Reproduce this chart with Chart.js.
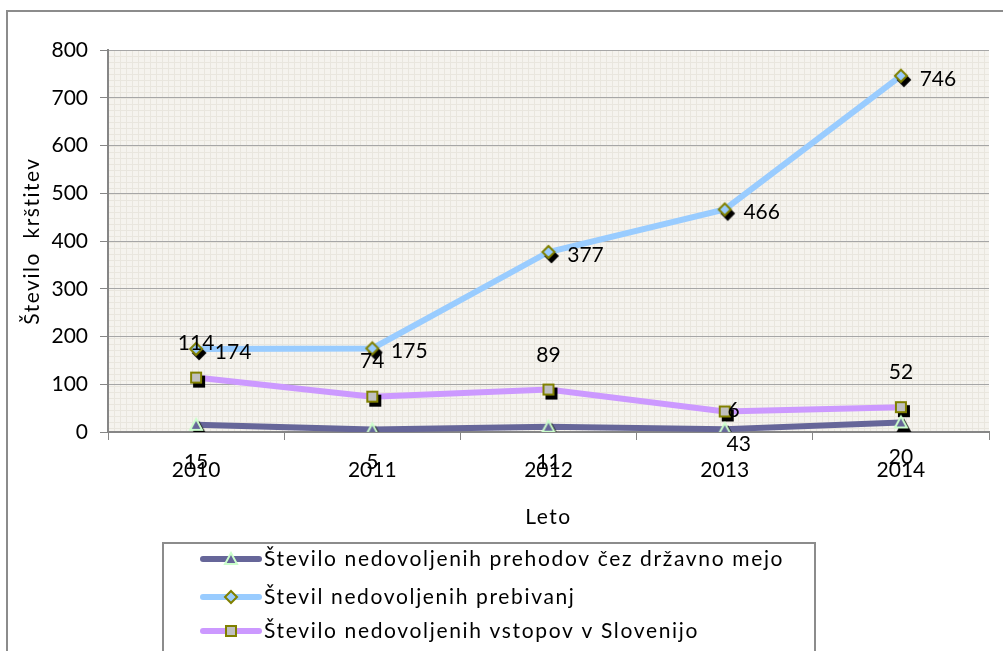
<!DOCTYPE html>
<html>
<head>
<meta charset="utf-8">
<script src="https://cdn.jsdelivr.net/npm/chart.js@4/dist/chart.umd.min.js"></script>
<style>
  html, body { margin: 0; padding: 0; background: #fff; }
  #wrap { width: 1003px; height: 651px; }
</style>
</head>
<body>
<div id="wrap"><canvas id="lineChart" width="1003" height="651"></canvas></div>
<script>
// Data
const years = ['2010', '2011', '2012', '2013', '2014'];
const prehodi = [15, 5, 11, 6, 20];
const prebivanja = [174, 175, 377, 466, 746];
const vstopi = [114, 74, 89, 43, 52];
const seriesNames = [
    'Število nedovoljenih prehodov čez državno mejo',
    'Števil nedovoljenih prebivanj',
    'Število nedovoljenih vstopov v Slovenijo'
];
const yTitle = 'Število  krštitev';
const xTitle = 'Leto';

// where each data label sits relative to its point (Excel placed some by hand)
const labelShift = [
    [[0, 37], [0, 33], [0, 35], [9, -19], [0, 35]],
    [[37, 3], [37, 3], [37, 3], [37, 3], [37, 3]],
    [[0, -34], [0, -35], [0, -34], [14, 33], [0, -35]]
];

const FONT = 'Lato';

function drawMarker(g, shape, cx, cy, fill, stroke) {
    g.beginPath();
    if (shape === 'triangle') {
        g.moveTo(cx, cy - 6);
        g.lineTo(cx + 6, cy + 5);
        g.lineTo(cx - 6, cy + 5);
        g.closePath();
    } else if (shape === 'diamond') {
        g.moveTo(cx, cy - 6);
        g.lineTo(cx + 6, cy);
        g.lineTo(cx, cy + 6);
        g.lineTo(cx - 6, cy);
        g.closePath();
    } else {
        g.rect(cx - 5, cy - 5, 10, 10);
    }
    g.fillStyle = fill;
    g.fill();
    g.lineWidth = 2;
    g.strokeStyle = stroke;
    g.stroke();
}

// marker with the black offset copy behind it, as in the original
function markerImage(shape, fill, stroke) {
    const c = document.createElement('canvas');
    c.width = 28; c.height = 28;
    const g = c.getContext('2d');
    drawMarker(g, shape, 17, 18, '#000', '#000');
    drawMarker(g, shape, 14, 14, fill, stroke);
    return c;
}

// legend icon: line piece with marker in the middle
function legendIcon(shape, lineColor, fill, stroke) {
    const c = document.createElement('canvas');
    c.width = 62; c.height = 18;
    const g = c.getContext('2d');
    g.strokeStyle = lineColor;
    g.lineWidth = 6;
    g.lineCap = 'round';
    g.beginPath();
    g.moveTo(3, 9);
    g.lineTo(59, 9);
    g.stroke();
    drawMarker(g, shape, 31, 9, fill, stroke);
    return c;
}

const styles = [
    { line: '#666699', shape: 'triangle', fill: '#666699', stroke: '#CCFFCC' },
    { line: '#99CCFF', shape: 'diamond', fill: '#99CCFF', stroke: '#808000' },
    { line: '#CC99FF', shape: 'rect', fill: '#C0C0C0', stroke: '#808000' }
];
const seriesData = [prehodi, prebivanja, vstopi];

// fine grid pattern of the plot area
function plotPattern(ctx) {
    const c = document.createElement('canvas');
    c.width = 6; c.height = 6;
    const g = c.getContext('2d');
    g.fillStyle = '#F5F3EE';
    g.fillRect(0, 0, 6, 6);
    g.fillStyle = '#E9E6DE';
    g.fillRect(0, 0, 6, 1);
    g.fillRect(0, 0, 1, 6);
    return ctx.createPattern(c, 'repeat');
}

const frame = {
    id: 'frame',
    beforeDraw(chart) {
        const { ctx, chartArea: a } = chart;
        ctx.save();
        ctx.strokeStyle = '#8C8C8C';
        ctx.lineWidth = 2;
        ctx.strokeRect(7, 11, 1100, 800);
        ctx.fillStyle = plotPattern(ctx);
        ctx.translate(a.left, a.top);
        ctx.fillRect(0, 0, a.right - a.left, a.bottom - a.top);
        ctx.restore();
    }
};

// axis titles drawn by hand so the wide Excel letter spacing can be kept
const axisTitles = {
    id: 'axisTitles',
    afterDraw(chart) {
        const { ctx, chartArea: a } = chart;
        ctx.save();
        ctx.font = '21px ' + FONT;
        ctx.fillStyle = '#000';
        ctx.textAlign = 'center';
        ctx.textBaseline = 'middle';
        ctx.letterSpacing = '1.5px';
        ctx.fillText(xTitle, (a.left + a.right) / 2, 517);
        ctx.translate(32, (a.top + a.bottom) / 2);
        ctx.rotate(-Math.PI / 2);
        ctx.fillText(yTitle, 0, 0);
        ctx.restore();
    }
};

const valueLabels = {
    id: 'valueLabels',
    afterDatasetsDraw(chart) {
        const ctx = chart.ctx;
        ctx.save();
        ctx.font = '21px ' + FONT;
        ctx.fillStyle = '#000';
        ctx.textAlign = 'center';
        ctx.textBaseline = 'middle';
        chart.data.datasets.forEach((ds, i) => {
            chart.getDatasetMeta(i).data.forEach((pt, j) => {
                const s = labelShift[i][j];
                ctx.fillText(String(ds.data[j]), pt.x + s[0], pt.y + s[1]);
            });
        });
        ctx.restore();
    }
};

const boxLegend = {
    id: 'boxLegend',
    afterDraw(chart) {
        const ctx = chart.ctx;
        ctx.save();
        ctx.strokeStyle = '#8C8C8C';
        ctx.lineWidth = 2;
        ctx.strokeRect(163, 543, 652, 140);
        ctx.font = '21px ' + FONT;
        ctx.letterSpacing = '1.65px';
        ctx.fillStyle = '#000';
        ctx.textBaseline = 'middle';
        const rows = [559, 597, 631];
        chart.data.datasets.forEach((ds, i) => {
            const st = styles[i];
            const icon = legendIcon(st.shape, st.line, st.fill, st.stroke);
            ctx.drawImage(icon, 200, rows[i] - 9);
            ctx.fillText(ds.label, 264, rows[i]);
        });
        ctx.restore();
    }
};

const config = {
    type: 'line',
    data: {
        labels: years,
        datasets: seriesData.map((d, i) => ({
            label: seriesNames[i],
            data: d,
            borderColor: styles[i].line,
            backgroundColor: styles[i].fill,
            borderWidth: 6,
            tension: 0,
            fill: false,
            pointStyle: markerImage(styles[i].shape, styles[i].fill, styles[i].stroke),
            pointRadius: 8
        }))
    },
    options: {
        responsive: false,
        animation: false,
        layout: {
            padding: { left: 0, top: 50, right: 13, bottom: 119 }
        },
        plugins: {
            legend: { display: false },
            tooltip: { enabled: false }
        },
        scales: {
            x: {
                offset: true,
                afterFit(scale) { scale.height = 100; },
                grid: {
                    offset: true,
                    drawOnChartArea: false,
                    tickLength: 8,
                    tickColor: '#868686'
                },
                border: { color: '#868686', width: 2 },
                ticks: {
                    padding: 18,
                    color: '#000',
                    font: { family: FONT, size: 21 }
                }
            },
            y: {
                min: 0,
                max: 800,
                afterFit(scale) { scale.width = 108; },
                grid: {
                    color: '#A6A6A6',
                    lineWidth: 1,
                    tickLength: 8,
                    tickColor: '#868686'
                },
                border: { color: '#868686', width: 2 },
                ticks: {
                    stepSize: 100,
                    padding: 12,
                    color: '#000',
                    font: { family: FONT, size: 21 }
                }
            }
        }
    },
    plugins: [frame, valueLabels, axisTitles, boxLegend]
};

const ctx = document.getElementById('lineChart').getContext('2d');
const lineChart = new Chart(ctx, config);
</script>
</body>
</html>
